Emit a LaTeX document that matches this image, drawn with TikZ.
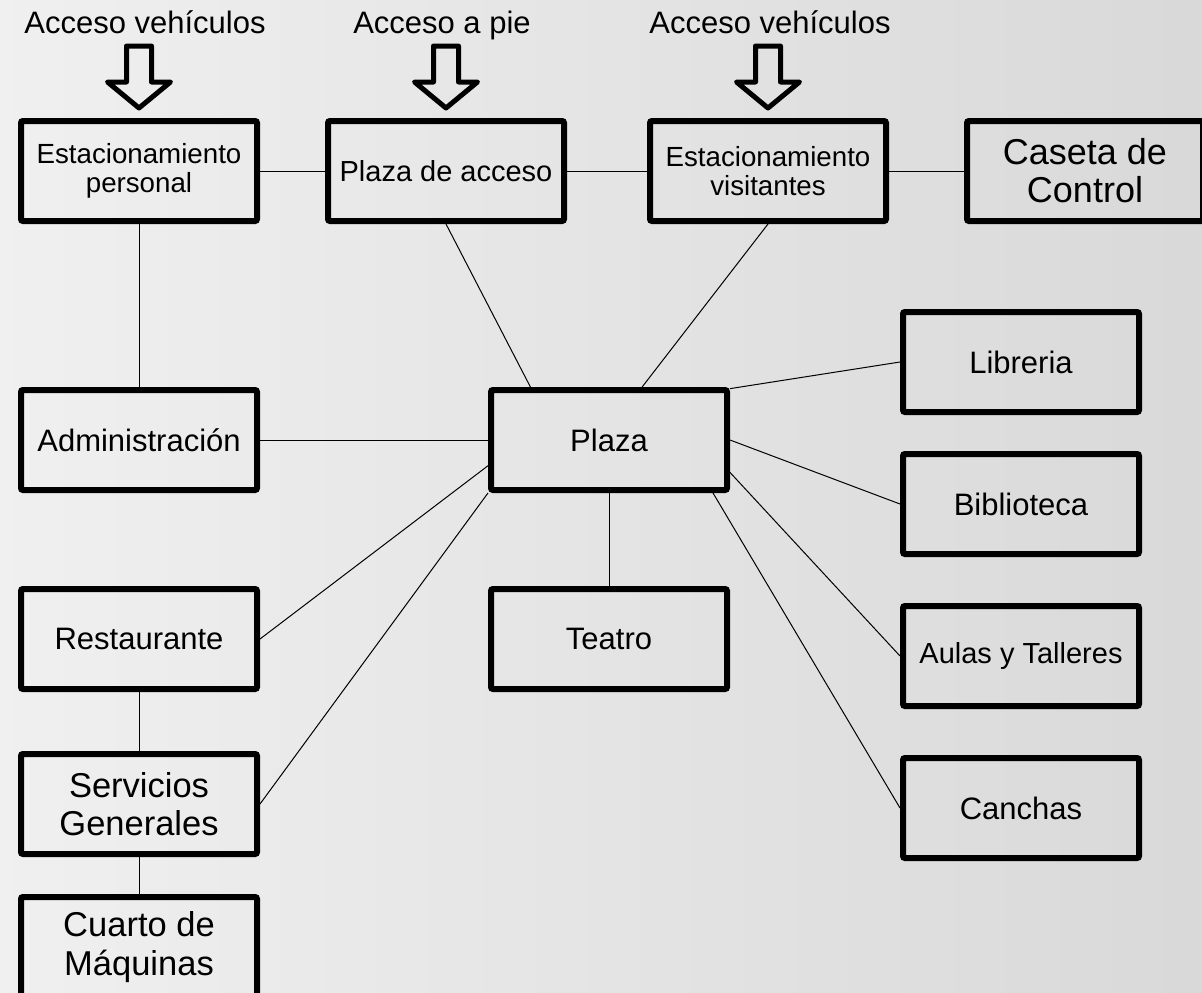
\documentclass[tikz,border=0pt]{standalone}
\usepackage{fontspec}
\setmainfont{Liberation Sans}
\usetikzlibrary{calc}
\begin{document}
\begin{tikzpicture}[x=1pt, y=-1pt,
    box/.style={draw, line width=6pt, rounded corners=2pt, align=center, inner sep=0pt,
      minimum width=236pt, minimum height=100pt, font=\fontsize{31}{36}\selectfont},
    fsmall/.style={font=\fontsize{27.7}{28.5}\selectfont},
    fmid/.style={font=\fontsize{29}{33}\selectfont},
    fbig/.style={font=\fontsize{34.5}{38.5}\selectfont},
    fcaseta/.style={font=\fontsize{36}{38}\selectfont},
    link/.style={line width=1pt},
    entry/.style={line width=5pt, line join=round},
    tag/.style={anchor=base, inner sep=0pt, font=\fontsize{31}{36}\selectfont}]
  % background
  \fill[left color=black!6, right color=black!15] (0,0) rectangle (1202,993);
  \useasboundingbox (0,0) rectangle (1202,993);

  % top row
  \node[box, fsmall]  (ep)  at (139,171)  {\strut Estacionamiento\\personal};
  \node[box, fmid]    (pa)  at (446,171)  {Plaza de acceso};
  \node[box, fsmall]  (ev)  at (768,171)  {\strut Estacionamiento\\visitantes};
  \node[box, fcaseta] (cc)  at (1085,171) {Caseta de\\Control};
  % middle
  \node[box]          (adm) at (139,440)  {Administración};
  \node[box]          (pz)  at (609,440)  {Plaza};
  \node[box]          (tea) at (609,639)  {Teatro};
  % right column
  \node[box]          (lib) at (1021,362) {Libreria};
  \node[box]          (bib) at (1021,504) {Biblioteca};
  \node[box, fmid]    (aul) at (1021,656) {Aulas y Talleres};
  \node[box]          (can) at (1021,808) {Canchas};
  % left column
  \node[box]          (res) at (139,639)  {Restaurante};
  \node[box, fbig]    (sg)  at (139,804)  {Servicios\\Generales};
  \node[box, fbig]    (cm)  at (139,947)  {Cuarto de\\Máquinas};

  % accesses
  \node[tag] (t1) at (145,33) {Acceso vehículos};
  \node[tag] (t2) at (442,33) {Acceso a pie};
  \node[tag] (t3) at (770,33) {Acceso vehículos};
  \foreach \b in {ep, pa, ev}
    \draw[entry] ($(\b.north)+(0,-10)$) -- ++(31.5,-26) -- ++(-19,0) -- ++(0,-36)
      -- ++(-25,0) -- ++(0,36) -- ++(-19,0) -- cycle;

  % links
  \draw[link] (ep) -- (pa);
  \draw[link] (pa) -- (ev);
  \draw[link] (ev) -- (cc);
  \draw[link] (ep) -- (adm);
  \draw[link] (pa.south) -- (pz.146);
  \draw[link] (ev.south) -- (pz.58);
  \draw[link] (adm) -- (pz);
  \draw[link] (pz.23) -- (lib.west);
  \draw[link] (pz.east) -- (bib.west);
  \draw[link] (pz.-15) -- (aul.west);
  \draw[link] (pz.-27) -- (can.west);
  \draw[link] (pz) -- (tea);
  \draw[link] (pz.192) -- (res.east);
  \draw[link] (pz.south west) -- (sg.east);
  \draw[link] (res) -- (sg);
  \draw[link] (sg) -- (cm);
\end{tikzpicture}
\end{document}
